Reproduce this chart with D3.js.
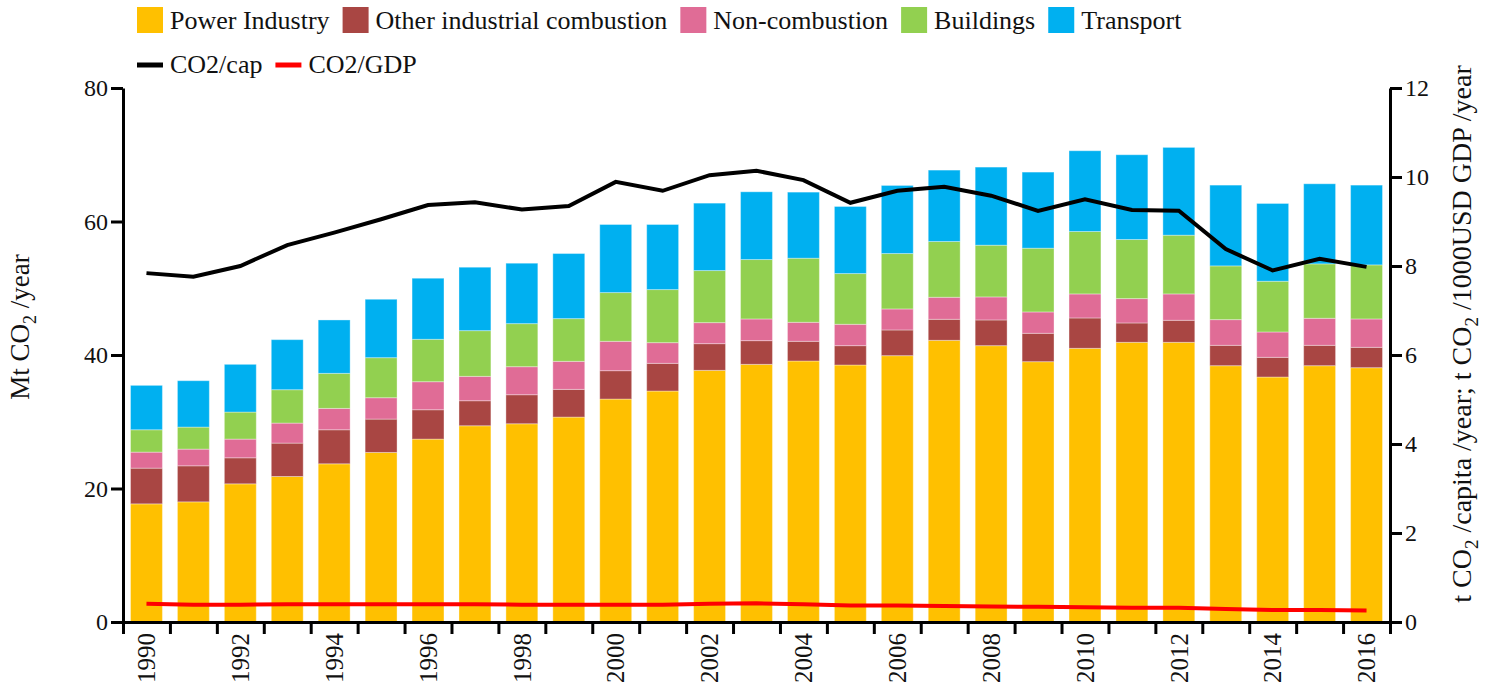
<!DOCTYPE html>
<html lang="en">
<head>
    <meta charset="UTF-8">
    <style>
        body {
            margin: 0;
            background: #fff;
        }
        svg text {
            font-family: "Liberation Serif", "DejaVu Serif", serif;
            fill: #111;
        }
        .axis path, .axis line {
            stroke: #000;
            stroke-width: 3px;
        }
        .axis text {
            font-size: 24px;
        }
    </style>
    <script src="https://d3js.org/d3.v7.min.js"></script>
</head>
<body>
<svg width="1486" height="688"></svg>
<script>
    var years = [1990, 1991, 1992, 1993, 1994, 1995, 1996, 1997, 1998, 1999, 2000, 2001, 2002,
                 2003, 2004, 2005, 2006, 2007, 2008, 2009, 2010, 2011, 2012, 2013, 2014, 2015, 2016];

    // Mt CO2 / year by sector
    var power     = [17.7, 18.0, 20.7, 21.8, 23.7, 25.4, 27.4, 29.4, 29.7, 30.7, 33.4, 34.6, 37.7,
                     38.6, 39.1, 38.5, 39.9, 42.2, 41.4, 39.0, 41.0, 41.9, 41.9, 38.4, 36.7, 38.4, 38.1];
    var other     = [5.35, 5.4, 3.9, 5.0, 5.1, 5.0, 4.4, 3.75, 4.35, 4.15, 4.25, 4.15, 4.0,
                     3.55, 2.95, 2.9, 3.85, 3.15, 3.85, 4.25, 4.55, 2.9, 3.3, 3.05, 2.95, 3.05, 3.05];
    var nonComb   = [2.4, 2.5, 2.8, 3.0, 3.2, 3.2, 4.2, 3.65, 4.2, 4.2, 4.4, 3.1, 3.15,
                     3.25, 2.85, 3.2, 3.15, 3.3, 3.45, 3.2, 3.6, 3.65, 3.95, 3.85, 3.8, 4.05, 4.25];
    var buildings = [3.35, 3.3, 4.05, 5.0, 5.25, 6.0, 6.35, 6.85, 6.45, 6.4, 7.3, 7.95, 7.8,
                     8.9, 9.6, 7.6, 8.3, 8.35, 7.75, 9.55, 9.35, 8.85, 8.8, 8.05, 7.6, 8.15, 8.1];
    var transport = [6.65, 6.95, 7.15, 7.5, 8.0, 8.75, 9.15, 9.5, 9.05, 9.75, 10.2, 9.75, 10.1,
                     10.15, 9.9, 10.05, 10.2, 10.7, 11.7, 11.4, 12.1, 12.7, 13.15, 12.1, 11.65, 12.0, 11.95];

    // t CO2 / capita / year and t CO2 / 1000 USD GDP / year
    var co2cap = [7.84, 7.76, 8.0, 8.47, 8.75, 9.05, 9.37, 9.43, 9.27, 9.35, 9.89, 9.69, 10.04,
                  10.14, 9.93, 9.42, 9.69, 9.78, 9.58, 9.24, 9.5, 9.26, 9.24, 8.38, 7.9, 8.16, 7.98];
    var co2gdp = [0.41, 0.39, 0.39, 0.40, 0.40, 0.40, 0.40, 0.40, 0.39, 0.39, 0.39, 0.39, 0.41,
                  0.42, 0.40, 0.37, 0.37, 0.36, 0.35, 0.34, 0.33, 0.32, 0.32, 0.29, 0.27, 0.27, 0.26];

    var sectors = [
        {key: "power", label: "Power Industry", color: "#FFC000", values: power},
        {key: "other", label: "Other industrial combustion", color: "#A94643", values: other},
        {key: "noncomb", label: "Non-combustion", color: "#E06C96", values: nonComb},
        {key: "buildings", label: "Buildings", color: "#92D050", values: buildings},
        {key: "transport", label: "Transport", color: "#00B0F0", values: transport}
    ];
    var lines = [
        {label: "CO2/cap", color: "#000", values: co2cap},
        {label: "CO2/GDP", color: "#FF0000", values: co2gdp}
    ];
    var leftTicks = [0, 20, 40, 60, 80];
    var rightTicks = [0, 2, 4, 6, 8, 10, 12];

    var svg = d3.select("svg");
    var plotLeft = 123, plotRight = 1390, plotTop = 88, plotBottom = 622;

    var rows = years.map(function(y, i) {
        var r = {year: y};
        sectors.forEach(function(s) { r[s.key] = s.values[i]; });
        return r;
    });

    var x = d3.scaleBand().domain(years).range([plotLeft, plotRight]).paddingInner(0.32).paddingOuter(0.16);
    var xEdge = d3.scaleLinear().domain([years[0], years[years.length - 1] + 1]).range([plotLeft, plotRight]);
    var y = d3.scaleLinear().domain([0, 80]).range([plotBottom, plotTop]);
    var yr = d3.scaleLinear().domain([0, 12]).range([plotBottom, plotTop]);

    var stack = d3.stack().keys(sectors.map(function(s) { return s.key; }));
    var series = stack(rows);

    svg.append("g").selectAll("g")
        .data(series).enter()
        .append("g")
        .attr("fill", function(d, i) { return sectors[i].color; })
        .selectAll("rect")
        .data(function(d) { return d; }).enter()
        .append("rect")
        .attr("x", function(d) { return x(d.data.year); })
        .attr("width", x.bandwidth())
        .attr("y", function(d) { return y(d[1]); })
        .attr("height", function(d) { return y(d[0]) - y(d[1]); })
        .attr("stroke", "#fff")
        .attr("stroke-opacity", 0.35)
        .attr("stroke-width", 1);

    lines.forEach(function(l) {
        var line = d3.line()
            .x(function(d, i) { return x(years[i]) + x.bandwidth() / 2; })
            .y(function(d) { return yr(d); });
        svg.append("path")
            .datum(l.values)
            .attr("fill", "none")
            .attr("stroke", l.color)
            .attr("stroke-width", 4)
            .attr("d", line);
    });

    // axes
    svg.append("g").attr("class", "axis")
        .attr("transform", "translate(" + plotLeft + ",0)")
        .call(d3.axisLeft(y).tickValues(leftTicks).tickSize(12).tickSizeOuter(0).tickPadding(3));

    svg.append("g").attr("class", "axis")
        .attr("transform", "translate(" + plotRight + ",0)")
        .call(d3.axisRight(yr).tickValues(rightTicks).tickSize(12).tickSizeOuter(0).tickPadding(3));

    var edges = years.concat([years[years.length - 1] + 1]);
    svg.append("g").attr("class", "axis")
        .attr("transform", "translate(0," + plotBottom + ")")
        .call(d3.axisBottom(xEdge).tickValues(edges).tickFormat("").tickSize(12).tickSizeOuter(0));

    svg.append("g").attr("class", "axis")
        .selectAll("text")
        .data(years.filter(function(d) { return d % 2 === 0; })).enter()
        .append("text")
        .attr("transform", function(d) {
            return "translate(" + (x(d) + x.bandwidth() / 2) + "," + (plotBottom + 11) + ") rotate(-90)";
        })
        .attr("text-anchor", "end")
        .attr("dy", "0.35em")
        .style("font-size", "25px")
        .text(function(d) { return d; });

    // axis titles
    function subTitle(g, size, parts) {
        var t = g.append("text").attr("text-anchor", "middle").style("font-size", size + "px");
        var shift = Math.round(size * 0.25) + "px";
        parts.forEach(function(p) {
            if (p.sub) {
                t.append("tspan").attr("dy", shift).style("font-size", Math.round(size * 0.68) + "px").text(p.sub);
            } else {
                t.append("tspan").attr("dy", p.after ? "-" + shift : null).text(p.text);
            }
        });
        return t;
    }
    var lt = svg.append("g").attr("transform", "translate(29,327) rotate(-90)");
    subTitle(lt, 27, [{text: "Mt CO"}, {sub: "2"}, {text: " /year", after: true}]);

    var rt = svg.append("g").attr("transform", "translate(1471,334) rotate(-90)");
    subTitle(rt, 28, [{text: "t CO"}, {sub: "2"}, {text: " /capita /year; t CO", after: true},
                  {sub: "2"}, {text: " /1000USD GDP /year", after: true}]);

    // legend
    var legend = svg.append("g");
    var lx = 137;
    sectors.forEach(function(s) {
        legend.append("rect").attr("x", lx).attr("y", 7).attr("width", 26).attr("height", 26)
            .attr("fill", s.color);
        var t = legend.append("text").attr("x", lx + 33).attr("y", 29)
            .style("font-size", "26px").text(s.label);
        lx += 33 + t.node().getComputedTextLength() + 13;
    });
    lx = 137;
    lines.forEach(function(l) {
        legend.append("line").attr("x1", lx).attr("x2", lx + 26).attr("y1", 65).attr("y2", 65)
            .attr("stroke", l.color).attr("stroke-width", 5);
        var t = legend.append("text").attr("x", lx + 33).attr("y", 73)
            .style("font-size", "26px").text(l.label);
        lx += 33 + t.node().getComputedTextLength() + 13;
    });
</script>
</body>
</html>
